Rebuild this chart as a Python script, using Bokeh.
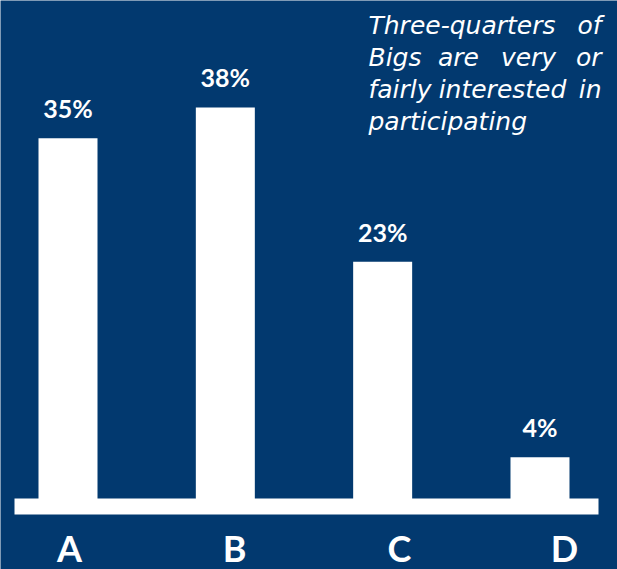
from bokeh.plotting import figure
from bokeh.models import Range1d
from bokeh.embed import file_html
from bokeh.resources import INLINE
from bokeh.core.properties import value

# ---- data ----
categories = ["A", "B", "C", "D"]
shares = [35, 38, 23, 4]
share_labels = ["35%", "38%", "23%", "4%"]
note_lines = [
    ["Three-quarters", "of"],
    ["Bigs", "are", "very", "or"],
    ["fairly", "interested", "in"],
    ["participating"],
]

# ---- layout ----
W, H = 617, 569
BG = "#02396f"
FG = "white"
PX_PER_CAT = 157.33
PX_PER_PCT = 10.29
X0_PX = 67.5          # pixel centre of first bar
ZERO_PX = 498         # pixel row of value 0

xs = -X0_PX / PX_PER_CAT
ys = -(H - ZERO_PX) / PX_PER_PCT


def fx(px):
    return xs + px / PX_PER_CAT


def fy(py):
    return ys + (H - py) / PX_PER_PCT


p = figure(width=W, height=H, output_backend="svg", toolbar_location=None,
           x_range=Range1d(xs, xs + W / PX_PER_CAT),
           y_range=Range1d(ys, ys + H / PX_PER_PCT),
           min_border=0, min_border_left=0, min_border_right=0,
           min_border_top=0, min_border_bottom=0)
p.axis.visible = False
p.grid.visible = False
p.outline_line_color = None
p.background_fill_color = BG
p.border_fill_color = BG

idx = list(range(len(categories)))

# bars
p.vbar(x=idx, top=shares, bottom=fy(506), width=59 / PX_PER_CAT,
       fill_color=FG, line_color=None)

# baseline
p.quad(left=[fx(14)], right=[fx(598)], top=[0], bottom=[fy(514)],
       fill_color=FG, line_color=None)

# value labels
p.text(x=idx, y=shares, text=share_labels, text_align="center",
       text_baseline="alphabetic", y_offset=-30, text_color=FG,
       text_font=value("Lato"), text_font_style="bold", text_font_size="25px")

# category labels on their own scale
L0, LSTEP = 69, 165
p.extra_x_ranges = {"letters": Range1d(-L0 / LSTEP, -L0 / LSTEP + W / LSTEP)}
p.text(x=idx, y=fy(547), text=categories, x_range_name="letters",
       text_align="center", text_baseline="alphabetic", text_color=FG,
       text_font=value("Lato"), text_font_style="bold", text_font_size="36px")

# justified italic note
baselines = [25, 57, 89, 121]
middle_center = {1: [458, 528], 2: [502]}
left_px, right_px = 368, 601
for li, words in enumerate(note_lines):
    y = fy(baselines[li])
    pos = [(left_px, "left")]
    if len(words) > 1:
        for m in middle_center.get(li, []):
            pos.append((m, "center"))
        pos.append((right_px, "right"))
    for w, (xp, al) in zip(words, pos):
        p.text(x=[fx(xp)], y=[y], text=[w], text_align=al,
               text_baseline="alphabetic", text_color=FG,
               text_font=value("DejaVu Sans"), text_font_style="italic",
               text_font_size="25px")

open("out.html", "w").write(file_html(p, INLINE))
